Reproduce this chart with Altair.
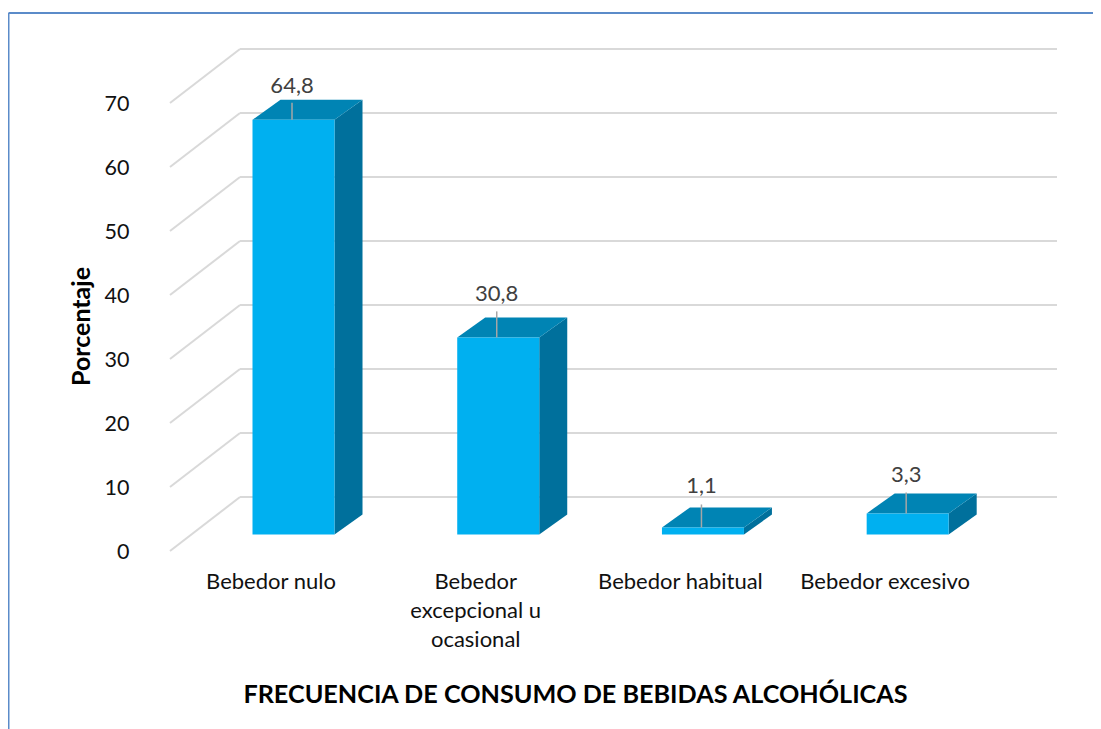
import altair as alt
import pandas as pd

categories = ["Bebedor nulo", "Bebedor excepcional u ocasional", "Bebedor habitual", "Bebedor excesivo"]
label_lines = [["Bebedor nulo"], ["Bebedor", "excepcional u", "ocasional"], ["Bebedor habitual"], ["Bebedor excesivo"]]
values = [64.8, 30.8, 1.1, 3.3]
value_text = ["64,8", "30,8", "1,1", "3,3"]
y_ticks = [0, 10, 20, 30, 40, 50, 60, 70]

# Layout in px, from the reference
W, H = 887, 502
PX_X = 204.7          # px per category slot
PX_Y = 6.4            # px per value unit
X_DOMAIN = [-0.5007, 3.832]
Y_DOMAIN = [0, H / PX_Y]
SHIFT_X, SHIFT_Y = 21 / PX_X, 16.5 / PX_Y   # bar plane vs. front plane
HALF = 41 / PX_X
DX, DY = 28 / PX_X, 20 / PX_Y               # bar depth
WALL_X, WALL_Y = 70 / PX_X, 54 / PX_Y       # floor depth
leader_px = [17, 26, 23, 21]
label_px = [34, 43, 41, 38]

FONT = "Lato"
x_axis = alt.Axis(values=list(range(len(categories))), domain=False, ticks=False, grid=False,
                  labelExpr="[" + ",".join(str(l) for l in label_lines) + "][datum.value]",
                  labelFont=FONT, labelFontSize=22, labelColor="#111111", labelOffset=-2,
                  labelLineHeight=29, labelPadding=20, labelBaseline="top", labelOverlap=False,
                  labelFlush=False, labelBound=False,
                  title="FRECUENCIA DE CONSUMO DE BEBIDAS ALCOHÓLICAS",
                  titleFont=FONT, titleFontSize=25.2, titleFontWeight="bold", titleColor="#000000",
                  titleX=405, titleY=143, titleBaseline="middle", titleAlign="center")
y_axis = alt.Axis(values=y_ticks, domain=False, ticks=False, grid=False,
                  labelFont=FONT, labelFontSize=21.5, labelColor="#111111", labelPadding=41, labelOffset=1,
                  title="Porcentaje", titleFont=FONT, titleFontSize=25, titleFontWeight="bold",
                  titleColor="#000000", titleX=-89, titleY=277, titleAlign="center",
                  titleBaseline="middle")
x = alt.X("x:Q", scale=alt.Scale(domain=X_DOMAIN, nice=False, zero=False), axis=x_axis)
y = alt.Y("y:Q", scale=alt.Scale(domain=Y_DOMAIN, nice=False), axis=y_axis)

# Gridlines
wall = pd.DataFrame([{"x": X_DOMAIN[0] + WALL_X, "x2": X_DOMAIN[1], "y": t + WALL_Y} for t in y_ticks])
diag = pd.DataFrame([{"x": X_DOMAIN[0], "x2": X_DOMAIN[0] + WALL_X, "y": t, "y2": t + WALL_Y} for t in y_ticks])
grid_wall = alt.Chart(wall).mark_rule(color="#D9D9D9", strokeWidth=2).encode(x=x, x2="x2:Q", y=y)
grid_diag = alt.Chart(diag).mark_rule(color="#D9D9D9", strokeWidth=2).encode(x=x, x2="x2:Q", y=y, y2="y2:Q")

# Bars
front, side, top, lead, lab = [], [], [], [], []
for i, v in enumerate(values):
    c = i + SHIFT_X
    l, r = c - HALF, c + HALF
    base, t = SHIFT_Y, v + SHIFT_Y
    front.append({"x": l, "x2": r, "y": base, "y2": t})
    side += [{"b": i, "x": r, "y": base, "y2": t}, {"b": i, "x": r + DX, "y": base + DY, "y2": t + DY}]
    top += [{"b": i, "x": l, "y": t, "y2": t},
            {"b": i, "x": l + DX, "y": t, "y2": t + DY},
            {"b": i, "x": r, "y": t, "y2": t + DY},
            {"b": i, "x": r + DX, "y": t + DY, "y2": t + DY}]
    mid = c - 1.5 / PX_X
    lead.append({"x": mid, "y": t, "y2": t + leader_px[i] / PX_Y})
    lab.append({"x": mid, "y": t + label_px[i] / PX_Y, "t": value_text[i]})

side_m = alt.Chart(pd.DataFrame(side)).mark_area(color="#00709C").encode(
    x=x, y=y, y2="y2:Q", detail="b:N")
top_m = alt.Chart(pd.DataFrame(top)).mark_area(color="#0084B4").encode(
    x=x, y=y, y2="y2:Q", detail="b:N")
front_m = alt.Chart(pd.DataFrame(front)).mark_rect(color="#00B0F0").encode(x=x, x2="x2:Q", y=y, y2="y2:Q")
lead_m = alt.Chart(pd.DataFrame(lead)).mark_rule(color="#A6A6A6", strokeWidth=1.5).encode(x=x, y=y, y2="y2:Q")
lab_m = alt.Chart(pd.DataFrame(lab)).mark_text(font=FONT, fontSize=22, color="#404040").encode(x=x, y=y, text="t:N")

# Outer frame (left and top edges only are visible)
frame_anchor = pd.DataFrame({"a": [0]})
frame_top = alt.Chart(frame_anchor).mark_rule(color="#5B8BC9", strokeWidth=2).encode(
    x=alt.value(-161.5), x2=alt.value(925), y=alt.value(-36))
frame_left = alt.Chart(frame_anchor).mark_rule(color="#5B8BC9", strokeWidth=2).encode(
    x=alt.value(-161.5), y=alt.value(-36), y2=alt.value(680))

chart = alt.layer(frame_top, frame_left, grid_wall, grid_diag, side_m, top_m, front_m, lead_m, lab_m).properties(
    width=W, height=H, autosize=alt.AutoSizeParams(type="none"),
    padding={"left": 162, "top": 41, "right": 36, "bottom": 178},
    background="white",
).configure_view(stroke=None)

chart.save("out.html", embed_options={"renderer": "svg", "actions": False})
